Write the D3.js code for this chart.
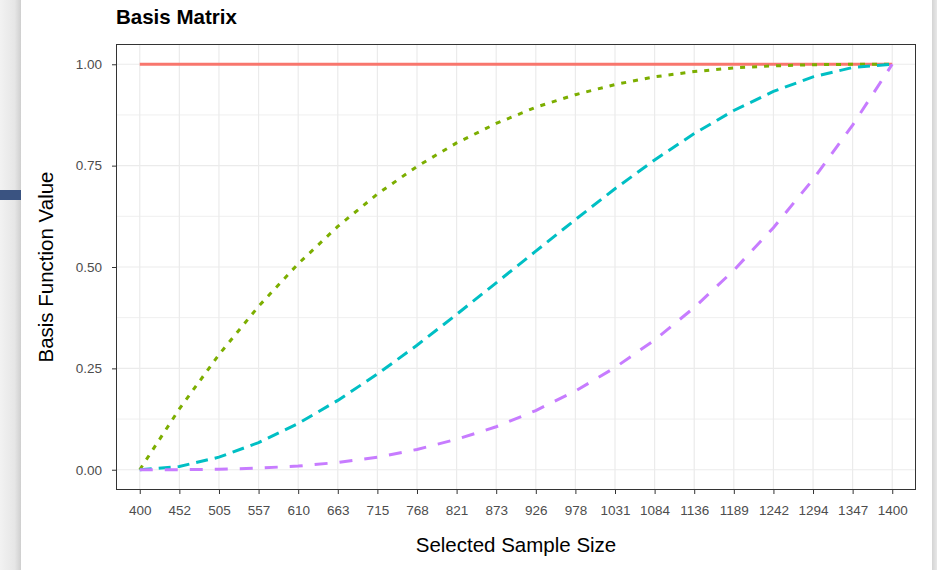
<!DOCTYPE html>
<html>
<head>
<meta charset="utf-8">
<script src="https://cdn.jsdelivr.net/npm/d3@7"></script>
<style>
  body { margin: 0; background: #fff; overflow: hidden; }
  #page { position: relative; width: 937px; height: 570px; }
  #leftShade { position: absolute; left: 0; top: 0; width: 21px; height: 570px;
    background: linear-gradient(to right, #f2f2f2 0%, #e6e6e6 70%, #cfcfcf 100%); }
  #blueBar { position: absolute; left: 0; top: 190px; width: 21px; height: 10px; background: #3a5381; }
  #rightShade { position: absolute; left: 932px; top: 0; width: 5px; height: 570px;
    background: linear-gradient(to right, #d4d4d4, #e8e8e8); }
  #chart { position: absolute; left: 0; top: 0; }
  text { font-family: "Liberation Sans", Arial, sans-serif; }
</style>
</head>
<body>
<div id="page">
  <div id="leftShade"></div>
  <div id="blueBar"></div>
  <div id="rightShade"></div>
  <svg id="chart" width="937" height="570"></svg>
</div>
<script>
// sample sizes on the x axis (discrete)
const sampleSizes = ["400", "452", "505", "557", "610", "663", "715", "768", "821", "873",
  "926", "978", "1031", "1084", "1136", "1189", "1242", "1294", "1347", "1400"];

// basis function values
const basis1 = [1, 1, 1, 1, 1, 1, 1, 1, 1, 1, 1, 1, 1, 1, 1, 1, 1, 1, 1, 1];
const basis2 = [0, 0.150, 0.284, 0.403, 0.508, 0.600, 0.680, 0.748, 0.806, 0.854,
  0.894, 0.925, 0.950, 0.969, 0.982, 0.991, 0.996, 0.999, 1.000, 1.000];
const basis3 = [0, 0.008, 0.031, 0.067, 0.114, 0.171, 0.236, 0.307, 0.383, 0.461,
  0.539, 0.617, 0.693, 0.764, 0.829, 0.886, 0.933, 0.969, 0.992, 1.000];
const basis4 = [0, 0.000, 0.001, 0.004, 0.009, 0.018, 0.031, 0.050, 0.075, 0.106,
  0.146, 0.194, 0.252, 0.320, 0.400, 0.492, 0.597, 0.716, 0.850, 1.000];

const yTicks = [0, 0.25, 0.5, 0.75, 1];
const yMinor = [0.125, 0.375, 0.625, 0.875];

const series = [
  { values: basis1, color: "#F8766D", dash: null },
  { values: basis2, color: "#7CAE00", dash: "5,7" },
  { values: basis3, color: "#00BFC4", dash: "12,7" },
  { values: basis4, color: "#C77CFF", dash: "13,12" }
];

const margin = { top: 44, right: 21, bottom: 80, left: 116 };
const W = 937, H = 570;
const width = W - margin.left - margin.right;
const height = H - margin.top - margin.bottom;

const svg = d3.select("#chart");
const g = svg.append("g")
  .attr("transform", "translate(" + margin.left + "," + margin.top + ")");

// discrete x like ggplot: 0.6 unit expansion each side
const x = d3.scalePoint().domain(sampleSizes).range([0, width]).padding(0.6);
const y = d3.scaleLinear().domain([-0.05, 1.05]).range([height, 0]);

g.append("rect")
  .attr("width", width).attr("height", height)
  .attr("fill", "#fff");

// grid
g.selectAll(".minor").data(yMinor).enter().append("line")
  .attr("x1", 0).attr("x2", width)
  .attr("y1", d => y(d)).attr("y2", d => y(d))
  .attr("stroke", "#efefef").attr("stroke-width", 1);
g.selectAll(".hmajor").data(yTicks).enter().append("line")
  .attr("x1", 0).attr("x2", width)
  .attr("y1", d => y(d)).attr("y2", d => y(d))
  .attr("stroke", "#ebebeb").attr("stroke-width", 1.2);
g.selectAll(".vmajor").data(sampleSizes).enter().append("line")
  .attr("x1", d => x(d)).attr("x2", d => x(d))
  .attr("y1", 0).attr("y2", height)
  .attr("stroke", "#ebebeb").attr("stroke-width", 1.2);

// curves
const line = d3.line()
  .x((d, i) => x(sampleSizes[i]))
  .y(d => y(d));

series.forEach(s => {
  g.append("path")
    .datum(s.values)
    .attr("d", line)
    .attr("fill", "none")
    .attr("stroke", s.color)
    .attr("stroke-width", 3)
    .attr("stroke-dasharray", s.dash);
});

// panel border
g.append("rect")
  .attr("x", 0.5).attr("y", 0.5)
  .attr("width", width - 1).attr("height", height - 1)
  .attr("fill", "none").attr("stroke", "#333").attr("stroke-width", 1);

// axes
const xAxis = g.append("g")
  .attr("transform", "translate(0," + height + ")")
  .call(d3.axisBottom(x).tickSize(4).tickPadding(11));
const yAxis = g.append("g")
  .call(d3.axisLeft(y).tickValues(yTicks).tickFormat(d3.format(".2f")).tickSize(4).tickPadding(10));

[xAxis, yAxis].forEach(a => {
  a.select(".domain").remove();
  a.selectAll(".tick line").attr("stroke", "#333");
  a.selectAll(".tick text")
    .attr("fill", "#4d4d4d")
    .style("font-size", "13.5px")
    .style("font-family", "'Liberation Sans', Arial, sans-serif");
});

// titles
svg.append("text")
  .attr("x", margin.left).attr("y", 24)
  .style("font-size", "20.5px").style("font-weight", "bold")
  .attr("fill", "#000")
  .text("Basis Matrix");

svg.append("text")
  .attr("x", margin.left + width / 2).attr("y", 552)
  .attr("text-anchor", "middle")
  .style("font-size", "20.5px")
  .attr("fill", "#000")
  .text("Selected Sample Size");

svg.append("text")
  .attr("transform", "translate(53," + (margin.top + height / 2) + ") rotate(-90)")
  .attr("text-anchor", "middle")
  .style("font-size", "20.5px")
  .attr("fill", "#000")
  .text("Basis Function Value");
</script>
</body>
</html>
